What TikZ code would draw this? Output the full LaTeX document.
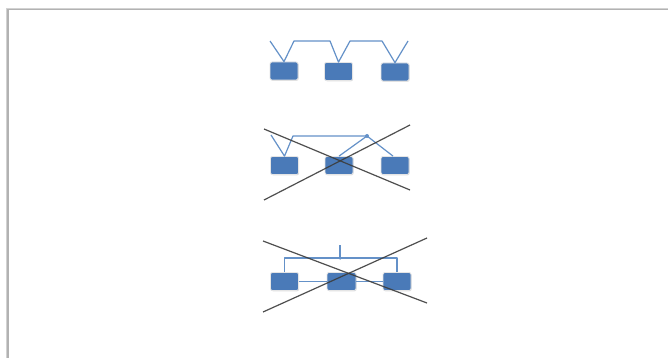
\documentclass[tikz,border=0pt]{standalone}
\usetikzlibrary{shadows}
\definecolor{boxblue}{RGB}{74,122,184}
\definecolor{wireblue}{RGB}{100,145,200}
\definecolor{crossgray}{RGB}{60,60,60}
\begin{document}
\begin{tikzpicture}[x=1pt,y=-1pt,
  box/.style={draw=white!90!black,line width=0.8pt,fill=boxblue,rounded corners=2pt,
    minimum width=28pt,minimum height=18pt,inner sep=0pt,
    drop shadow={opacity=0.25,shadow xshift=0.6pt,shadow yshift=-0.8pt}},
  wire/.style={draw=wireblue,line width=1.2pt,line join=round},
  cross/.style={draw=crossgray,line width=1.2pt,opacity=0.9},
  dotnode/.style={circle,fill=wireblue,inner sep=0pt,minimum size=4pt}]
\useasboundingbox (0,0) rectangle (668,358);
\fill[white] (0,0) rectangle (668,358);
% frame
\draw[gray!60,line width=2pt] (8,358) -- (8,9.5) -- (668,9.5);
\draw[gray!35,line width=0.6pt] (6.6,358) -- (6.6,8.1) -- (668,8.1);

% row 1
\node[box] (b11) at (284,71) {};
\node[box] (b12) at (338.5,71.5) {};
\node[box] (b13) at (395,72) {};
\coordinate (r1a) at (270,41);
\coordinate (r1b) at (294,41);
\coordinate (r1c) at (330,41);
\coordinate (r1d) at (350,41);
\coordinate (r1e) at (382,41);
\coordinate (r1f) at (408,41);
\draw[wire] (r1a) -- (b11.north) -- (r1b) -- (r1c) -- (b12.north) -- (r1d) -- (r1e) -- (b13.north) -- (r1f);

% row 2
\node[box] (b21) at (284.5,165.5) {};
\node[box] (b22) at (339,165.5) {};
\node[box] (b23) at (395,165.5) {};
\coordinate (r2a) at (271,135);
\coordinate (r2b) at (293,136);
\node[dotnode] (d2) at (367,136) {};
\draw[wire] (r2a) -- (b21.north) -- (r2b) -- (d2.center);
\draw[wire] (d2.center) -- (b22.north);
\draw[wire] (d2.center) -- ([xshift=-2pt]b23.north);
\coordinate (x2a) at (264,129);
\coordinate (x2b) at (410,190);
\coordinate (x2c) at (264,200);
\coordinate (x2d) at (410,125);
\draw[cross] (x2a) -- (x2b);
\draw[cross] (x2c) -- (x2d);

% row 3
\node[box] (b31) at (284.5,281.5) {};
\node[box,minimum width=29pt] (b32) at (341.5,281.5) {};
\node[box] (b33) at (397,281.5) {};
\node[dotnode,minimum size=3.5pt] (d3) at (340,258) {};
\coordinate (r3t) at (340,245);
\draw[wire] (b31.north) |- (d3.center) -| (b33.north);
\draw[wire] (r3t) -- (d3.center);
\draw[wire] (b31.east) -- (b32.west);
\draw[wire] (b32.east) -- (b33.west);
\coordinate (x3a) at (263,241);
\coordinate (x3b) at (427,303);
\coordinate (x3c) at (263,312);
\coordinate (x3d) at (427,238);
\draw[cross] (x3a) -- (x3b);
\draw[cross] (x3c) -- (x3d);
\end{tikzpicture}
\end{document}
